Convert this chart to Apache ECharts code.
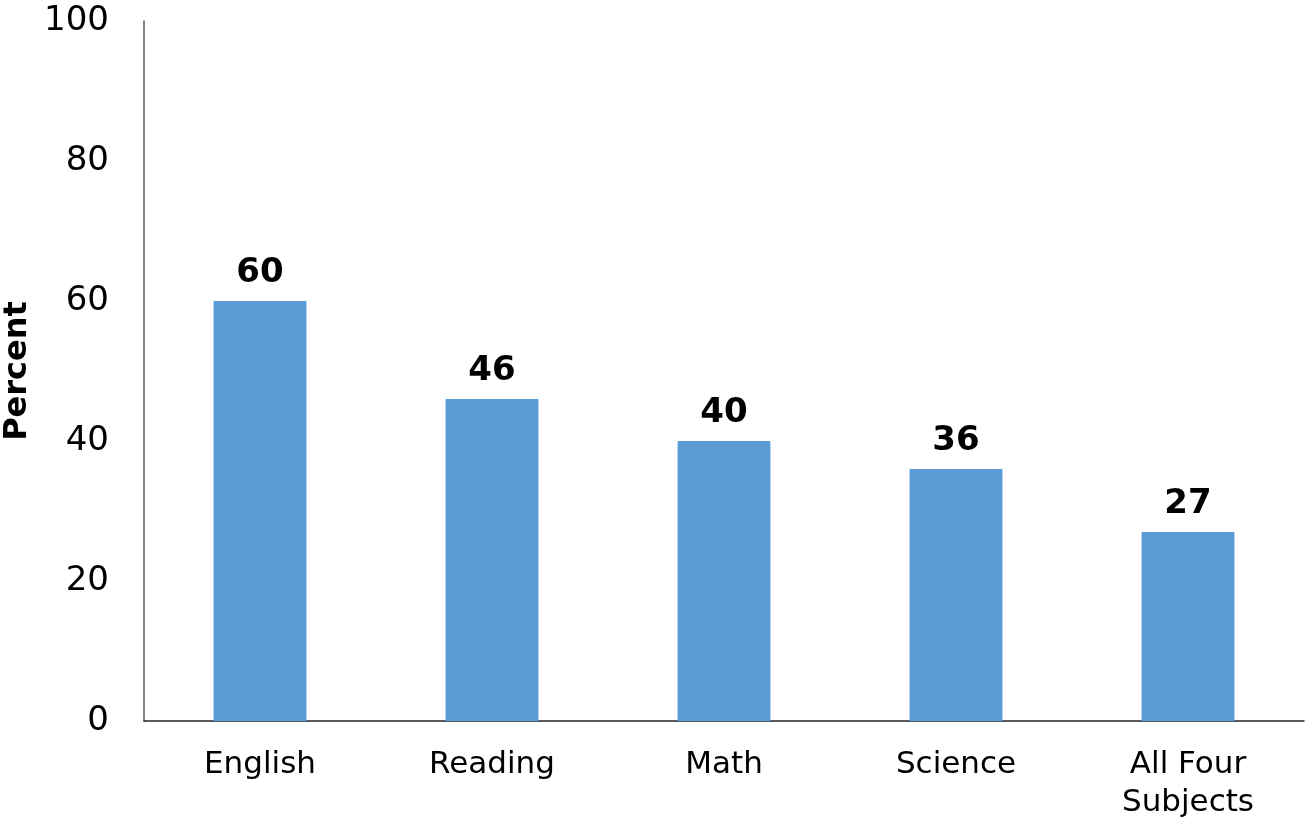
<!DOCTYPE html>
<html>
<head>
<meta charset="utf-8">
<style>
  html, body { margin: 0; padding: 0; background: #fff; }
  #chart { width: 1306px; height: 818px; }
</style>
<script src="https://cdn.jsdelivr.net/npm/echarts@6/dist/echarts.min.js"></script>
</head>
<body>
<div id="chart"></div>
<script>
// Share of students meeting the benchmark, by subject
const categories = ['English', 'Reading', 'Math', 'Science', 'All Four\nSubjects'];
const percentValues = [60, 46, 40, 36, 27];
const yTicks = { min: 0, max: 100, interval: 20 };

const FONT = '"DejaVu Sans", sans-serif';
const chart = echarts.init(document.getElementById('chart'));
chart.setOption({
  animation: false,
  grid: { left: 144, right: 2, top: 21, bottom: 97, containLabel: false, outerBoundsMode: 'none' },
  xAxis: {
    type: 'category',
    data: categories,
    axisLine: { show: true, lineStyle: { color: '#262626', width: 1.5 } },
    axisTick: { show: false },
    axisLabel: {
      color: '#000', fontFamily: FONT, fontSize: 31, margin: 25,
      lineHeight: 38, interval: 0
    }
  },
  yAxis: {
    type: 'value',
    min: yTicks.min, max: yTicks.max, interval: yTicks.interval,
    name: 'Percent',
    nameLocation: 'middle',
    nameGap: 110,
    nameRotate: 90,
    nameTextStyle: { color: '#000', fontFamily: FONT, fontSize: 32, fontWeight: 'bold' },
    axisLine: { show: true, lineStyle: { color: '#595959', width: 1.5 } },
    axisTick: { show: false },
    splitLine: { show: false },
    axisLabel: { color: '#000', fontFamily: FONT, fontSize: 34, margin: 35 }
  },
  series: [{
    type: 'bar',
    data: percentValues,
    barWidth: '40%',
    itemStyle: { color: '#5B9BD5' },
    label: {
      show: true, position: 'top', distance: 11,
      color: '#000', fontFamily: FONT, fontSize: 34, fontWeight: 'bold'
    }
  }]
});
</script>
</body>
</html>
